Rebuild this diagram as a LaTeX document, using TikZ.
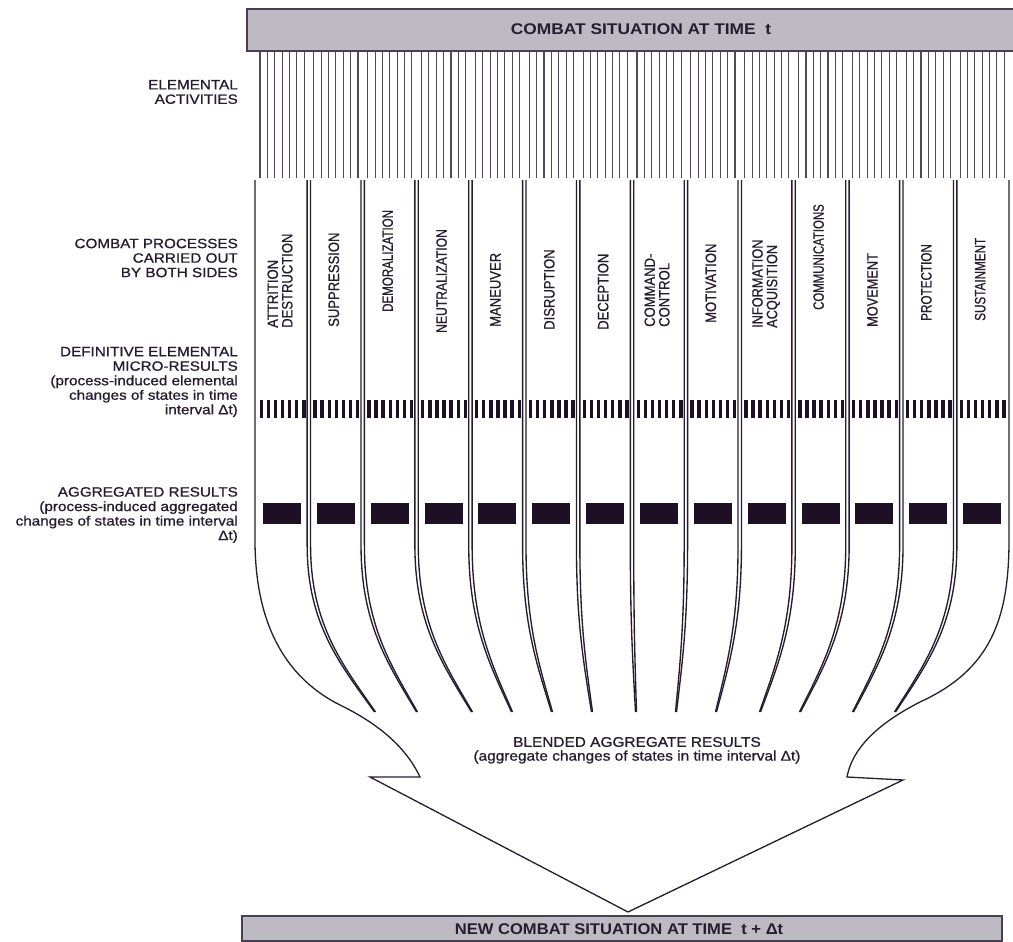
\documentclass[tikz,border=0pt]{standalone}
\usepackage{fontspec}
\setmainfont{Liberation Sans}
\newfontfamily\printfont[FakeBold=0.8]{Liberation Sans}
\usepackage{graphicx}
\definecolor{ink}{RGB}{38,28,48}
\definecolor{barfill}{RGB}{190,186,196}
\definecolor{barline}{RGB}{72,64,82}
\definecolor{blockfill}{RGB}{30,16,36}
% horizontal-only scaling of a piece of text
\newcommand{\hs}[2]{\scalebox{#1}[1]{#2}}
\newcommand{\sidetext}[1]{\hs{1.13}{#1}}

\begin{document}
\begin{tikzpicture}[x=1pt,y=-1pt,
  situation/.style={draw=barline, line width=1.4pt, fill=barfill},
  bartext/.style={font=\fontsize{15.5}{16}\selectfont\bfseries, text=ink, inner sep=0pt},
  sidelabel/.style={anchor=east, align=right, font=\printfont\fontsize{13.5}{14.5}\selectfont, text=ink, inner sep=0pt},
  proclabel/.style={rotate=90, anchor=west, align=left, font=\printfont\fontsize{15}{13.5}\selectfont, text=ink, inner sep=0pt},
  combline/.style={draw=ink!80, line width=1.1pt},
  divider/.style={draw=ink, line width=1.35pt},
  outline/.style={draw=ink, line width=1.3pt, line join=miter},
  microbar/.style={fill=blockfill},
  aggblock/.style={fill=blockfill},
  blendtext/.style={font=\printfont\fontsize{14}{14}\selectfont, text=ink, inner sep=0pt}
]
\useasboundingbox (0,0) rectangle (1013,942);
\fill[white] (0,0) rectangle (1013,942);
\clip (0,0) rectangle (1013,942);

% situation bars
\draw[situation] (247,9) rectangle (1018,51);
\node[bartext] (top) at (641,29) {\hs{1.12}{COMBAT SITUATION AT TIME\ \ t}};
\draw[situation] (242,916) rectangle (1002,941);
\node[bartext] (bottom) at (619,929) {\hs{1.07}{NEW COMBAT SITUATION AT TIME\ \ t + Δt}};

% elemental activities: fine comb of lines, seven per process
\foreach \i in {0,...,13}{
  \foreach \k in {0,...,6}{
    \draw[combline] ({255+53.86*\i+5+7.35*\k},51) -- ++(0,127);
  }
}

% definitive elemental micro-results
\foreach \i in {0,...,13}{
  \foreach \k in {0,...,6}{
    \fill[microbar] ({255+53.86*\i+4.5+7.1*\k},400) rectangle ++(3.4,18);
  }
}

% aggregated results, one block per process
\foreach \i in {0,...,13}{
  \fill[aggblock] ({255+53.86*(\i+0.5)-19},503) rectangle ++(38,21);
}

% double dividers between processes, bending towards the blend
\foreach \i/\xe in {1/375, 2/417, 3/472, 4/512, 5/552, 6/592, 7/636, 8/676, 9/716, 10/760, 11/800, 12/853, 13/895}{
  \pgfmathsetmacro\xo{255+53.86*\i}
  \foreach \d in {-1.7,1.7}{
    \draw[divider] ({\xo+(\d)},180) -- ({\xo+(\d)},545)
      .. controls ({\xo+(\d)},625) and ({\xe-0.5*(\xe-\xo)+0.6*(\d)},665)
      .. ({\xe+0.3*(\d)},712);
  }
}

% outer boundary merging into the big arrow
\draw[outline] (255,180) -- (255,540)
  .. controls (255,630) and (290,680) .. (340,705)
  .. controls (375,722) and (405,745) .. (420,777)
  -- (370,777) -- (628,912) -- (903,780) -- (847,777)
  .. controls (852,750) and (875,725) .. (920,702)
  .. controls (990,670) and (1009,620) .. (1009,540)
  -- (1009,180);

% process names (column, baseline start, horizontal scale, text)
\foreach \i/\yb/\sc/\name in {
  0/328/0.87/{ATTRITION\\DESTRUCTION},
  1/327/0.87/{SUPPRESSION},
  2/312/0.77/{DEMORALIZATION},
  3/333/0.81/{NEUTRALIZATION},
  4/327/0.87/{MANEUVER},
  5/330/0.87/{DISRUPTION},
  6/330/0.87/{DECEPTION},
  7/327/0.87/{COMMAND-\\CONTROL},
  8/323/0.87/{MOTIVATION},
  9/328/0.85/{INFORMATION\\ACQUISITION},
  10/310/0.76/{COMMUNICATIONS},
  11/327/0.85/{MOVEMENT},
  12/321/0.78/{PROTECTION},
  13/321/0.78/{SUSTAINMENT}}{
  \node[proclabel] (p\i) at ({255+53.86*(\i+0.5)},\yb) {\scalebox{\sc}[1]{\begin{tabular}{@{}l@{}}\name\end{tabular}}};
}

% row captions on the left
\node[sidelabel] (lact) at (238,92) {\sidetext{ELEMENTAL}\\\sidetext{ACTIVITIES}};
\node[sidelabel] (lproc) at (238,258) {\sidetext{COMBAT PROCESSES}\\\sidetext{CARRIED OUT}\\\sidetext{BY BOTH SIDES}};
\node[sidelabel] (lmicro) at (238,382) {\sidetext{DEFINITIVE ELEMENTAL}\\\sidetext{MICRO-RESULTS}\\\sidetext{(process-induced elemental}\\\sidetext{changes of states in time}\\\sidetext{interval Δt)}};
\node[sidelabel] (lagg) at (238,515) {\sidetext{AGGREGATED RESULTS}\\\sidetext{(process-induced aggregated}\\\sidetext{changes of states in time interval}\\\sidetext{Δt)}};

% blended results inside the arrow
\node[blendtext] (blend1) at (637,742) {\hs{1.1}{BLENDED AGGREGATE RESULTS}};
\node[blendtext] (blend2) at (637,757) {\hs{1.1}{(aggregate changes of states in time interval Δt)}};
\end{tikzpicture}
\end{document}
